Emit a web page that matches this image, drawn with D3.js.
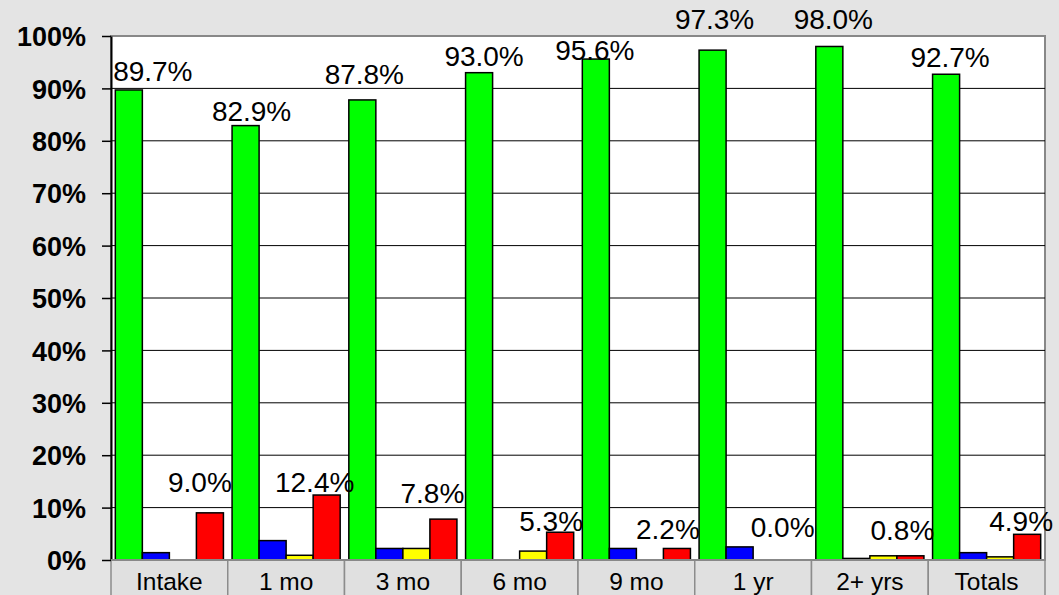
<!DOCTYPE html>
<html>
<head>
<meta charset="utf-8">
<script src="https://cdn.jsdelivr.net/npm/d3@7"></script>
<style>
	body { margin: 0; background: #e4e4e4; }
	svg { display: block; }
</style>
</head>
<body>
<div class="c-svg"></div>
<script>
//DATA
//-------------------------------------------------------------------------
const categories = ["Intake", "1 mo", "3 mo", "6 mo", "9 mo", "1 yr", "2+ yrs", "Totals"];
const seriesNames = ["green", "blue", "yellow", "red"];
const greenValues = [89.7, 82.9, 87.8, 93.0, 95.6, 97.3, 98.0, 92.7];
const blueValues = [1.4, 3.7, 2.2, 0.0, 2.2, 2.5, 0.3, 1.4];
const yellowValues = [0.0, 0.9, 2.2, 1.7, 0.0, 0.0, 0.8, 0.6];
const redValues = [9.0, 12.4, 7.8, 5.3, 2.2, 0.0, 0.8, 4.9];
const yTicks = [0, 10, 20, 30, 40, 50, 60, 70, 80, 90, 100];

//label nudges (labels were hand placed in the original)
const greenNudge = [[24, -9], [6, -5], [2, -16], [5, -7], [-1, 1], [2, -21], [4, -17], [4, -7]];
const redNudge = [[-10, -21], [-12, -3], [-11, -16], [-9, -1], [-9, -9], [-11, -23], [-8, -16], [-6, -3]];

//OPTS
//-------------------------------------------------------------------------
const opts = {
	width: 1059,
	height: 595,
	left: 111,
	right: 1045,
	top: 36,
	bottom: 560
};

const colors = { green: "#00ff00", blue: "#0000ff", yellow: "#ffff00", red: "#ff0000" };
const values = { green: greenValues, blue: blueValues, yellow: yellowValues, red: redValues };

const svg = d3.select(".c-svg")
	.append("svg")
	.attr("width", opts.width)
	.attr("height", opts.height);

//scales
const x = d3.scaleBand()
	.domain(categories)
	.range([opts.left, opts.right]);

const xs = d3.scaleBand()
	.domain(seriesNames)
	.range([0, x.bandwidth()])
	.paddingOuter(0.16);

const y = d3.scaleLinear()
	.domain([0, 100])
	.range([opts.bottom, opts.top]);

//plot area
svg.append("rect")
	.attr("x", opts.left)
	.attr("y", opts.top)
	.attr("width", opts.right - opts.left)
	.attr("height", opts.bottom - opts.top)
	.style("fill", "#fff")
	.style("stroke", "#888")
	.style("stroke-width", 2);

//grid
svg.append("g")
	.selectAll("line")
	.data(yTicks.filter(d => d > 0 && d < 100))
	.join("line")
	.attr("x1", opts.left)
	.attr("x2", opts.right)
	.attr("y1", d => y(d))
	.attr("y2", d => y(d))
	.style("stroke", "#000")
	.style("stroke-width", 1);

//category table row
const cells = svg.append("g");
cells.selectAll("rect")
	.data(categories)
	.join("rect")
	.attr("x", d => x(d))
	.attr("y", opts.bottom)
	.attr("width", x.bandwidth())
	.attr("height", opts.height - opts.bottom + 2)
	.style("fill", "#e0e0e0")
	.style("stroke", "#8c8c8c")
	.style("stroke-width", 1.5);

cells.selectAll("text")
	.data(categories)
	.join("text")
	.attr("x", d => x(d) + x.bandwidth() / 2)
	.attr("y", 590)
	.attr("text-anchor", "middle")
	.style("font-family", "Liberation Sans, Arial, sans-serif")
	.style("font-size", "24.5px")
	.style("fill", "#000")
	.text(d => d);

//bars
const groups = svg.append("g")
	.selectAll("g")
	.data(categories)
	.join("g")
	.attr("transform", d => `translate(${x(d)},0)`);

groups.selectAll("rect")
	.data((d, i) => seriesNames.map(s => ({ s: s, v: values[s][i] })))
	.join("rect")
	.filter(d => d.v > 0)
	.attr("x", d => xs(d.s))
	.attr("y", d => y(d.v))
	.attr("width", xs.bandwidth())
	.attr("height", d => y(0) - y(d.v))
	.style("fill", d => colors[d.s])
	.style("stroke", "#000")
	.style("stroke-width", 1.5);

//y axis
const yAxis = svg.append("g")
	.attr("transform", `translate(${opts.left},0)`)
	.call(d3.axisLeft(y).tickValues(yTicks).tickSize(9).tickSizeOuter(0).tickFormat(d => d + "%"));

yAxis.select(".domain").style("stroke", "#000").style("stroke-width", 2);
yAxis.selectAll(".tick line").style("stroke", "#000").style("stroke-width", 1.5);
yAxis.selectAll(".tick text")
	.attr("x", -25)
	.attr("dy", "0.36em")
	.style("font-family", "Liberation Sans, Arial, sans-serif")
	.style("font-size", "27px")
	.style("font-weight", "bold")
	.style("fill", "#000");

//baseline
svg.append("line")
	.attr("x1", opts.left)
	.attr("x2", opts.right)
	.attr("y1", y(0))
	.attr("y2", y(0))
	.style("stroke", "#888")
	.style("stroke-width", 2);

//labels
const labelFont = (sel) => sel
	.attr("text-anchor", "middle")
	.style("font-family", "Liberation Sans, Arial, sans-serif")
	.style("font-size", "28px")
	.style("fill", "#000");

svg.append("g")
	.selectAll("text")
	.data(categories)
	.join("text")
	.attr("x", (d, i) => x(d) + xs("green") + xs.bandwidth() / 2 + greenNudge[i][0])
	.attr("y", (d, i) => y(greenValues[i]) + greenNudge[i][1])
	.call(labelFont)
	.text((d, i) => greenValues[i].toFixed(1) + "%");

svg.append("g")
	.selectAll("text")
	.data(categories)
	.join("text")
	.attr("x", (d, i) => x(d) + xs("red") + xs.bandwidth() / 2 + redNudge[i][0])
	.attr("y", (d, i) => y(redValues[i]) + redNudge[i][1])
	.call(labelFont)
	.text((d, i) => redValues[i].toFixed(1) + "%");
</script>
</body>
</html>
